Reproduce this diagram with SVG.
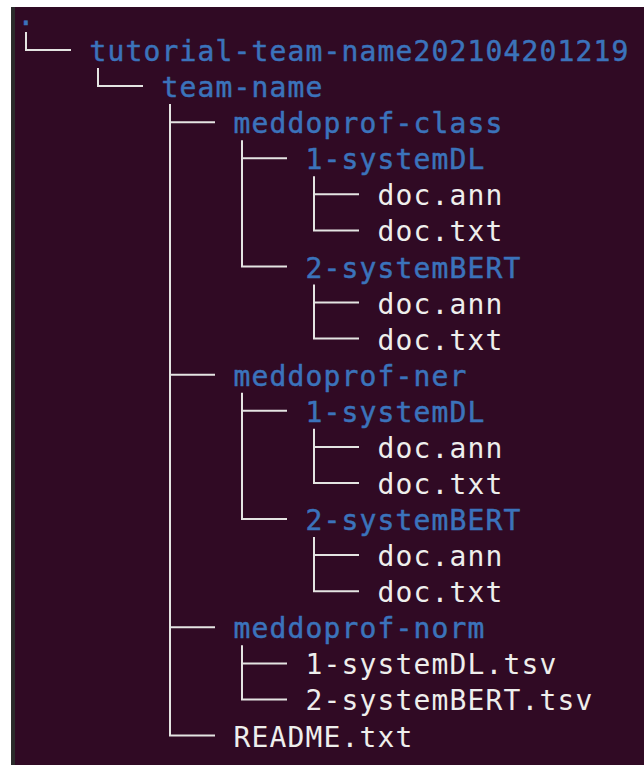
<svg xmlns="http://www.w3.org/2000/svg" width="644" height="765" viewBox="0 0 644 765">
<defs>
<style>
.t{font-family:"DejaVu Sans Mono","Liberation Mono",monospace;font-size:28px;letter-spacing:1.14px}
.d{fill:#3B73BB;stroke:#3B73BB;stroke-width:0.5}
.f{fill:#EEEEEC}
.c{fill:none;stroke:#E4E4E2;stroke-width:2}
</style>
</defs>
<rect x="0" y="0" width="644" height="765" fill="#FFFFFF"/>
<rect x="11" y="7" width="4" height="758" fill="#2B2B2B"/>
<rect x="15" y="7" width="629" height="758" fill="#300A24"/>
<g id="connectors" class="c">
<path d="M26 32V50H71"/>
<path d="M98 68V86.1H143"/>
<path d="M170 104.1V735.5H215M170 122.2H215M170 374.7H215M170 627.3H215"/>
<path d="M242 140.2V266.5H287M242 158.2H287"/>
<path d="M242 392.8V519H287M242 410.8H287"/>
<path d="M242 645.3V699.4H287M242 663.4H287"/>
<path d="M314 176.3V230.4H359M314 194.3H359"/>
<path d="M314 284.5V338.6H359M314 302.6H359"/>
<path d="M314 428.8V483H359M314 446.9H359"/>
<path d="M314 537.1V591.2H359M314 555.1H359"/>
</g>
<g id="root"><text class="t d" x="17.5" y="24.9">.</text></g>
<g id="tutorial"><text class="t d" x="89.5" y="61">tutorial-team-name202104201219</text></g>
<g id="team-name"><text class="t d" x="161.5" y="97.1">team-name</text></g>
<g id="meddoprof-class"><text class="t d" x="233.5" y="133.2">meddoprof-class</text></g>
<g id="class-1-systemDL"><text class="t d" x="305.5" y="169.2">1-systemDL</text></g>
<g id="class-dl-doc-ann"><text class="t f" x="377.5" y="205.3">doc.ann</text></g>
<g id="class-dl-doc-txt"><text class="t f" x="377.5" y="241.4">doc.txt</text></g>
<g id="class-2-systemBERT"><text class="t d" x="305.5" y="277.5">2-systemBERT</text></g>
<g id="class-bert-doc-ann"><text class="t f" x="377.5" y="313.6">doc.ann</text></g>
<g id="class-bert-doc-txt"><text class="t f" x="377.5" y="349.6">doc.txt</text></g>
<g id="meddoprof-ner"><text class="t d" x="233.5" y="385.7">meddoprof-ner</text></g>
<g id="ner-1-systemDL"><text class="t d" x="305.5" y="421.8">1-systemDL</text></g>
<g id="ner-dl-doc-ann"><text class="t f" x="377.5" y="457.9">doc.ann</text></g>
<g id="ner-dl-doc-txt"><text class="t f" x="377.5" y="494">doc.txt</text></g>
<g id="ner-2-systemBERT"><text class="t d" x="305.5" y="530">2-systemBERT</text></g>
<g id="ner-bert-doc-ann"><text class="t f" x="377.5" y="566.1">doc.ann</text></g>
<g id="ner-bert-doc-txt"><text class="t f" x="377.5" y="602.2">doc.txt</text></g>
<g id="meddoprof-norm"><text class="t d" x="233.5" y="638.3">meddoprof-norm</text></g>
<g id="norm-1-systemDL-tsv"><text class="t f" x="305.5" y="674.4">1-systemDL.tsv</text></g>
<g id="norm-2-systemBERT-tsv"><text class="t f" x="305.5" y="710.4">2-systemBERT.tsv</text></g>
<g id="readme"><text class="t f" x="233.5" y="746.5">README.txt</text></g>
</svg>
